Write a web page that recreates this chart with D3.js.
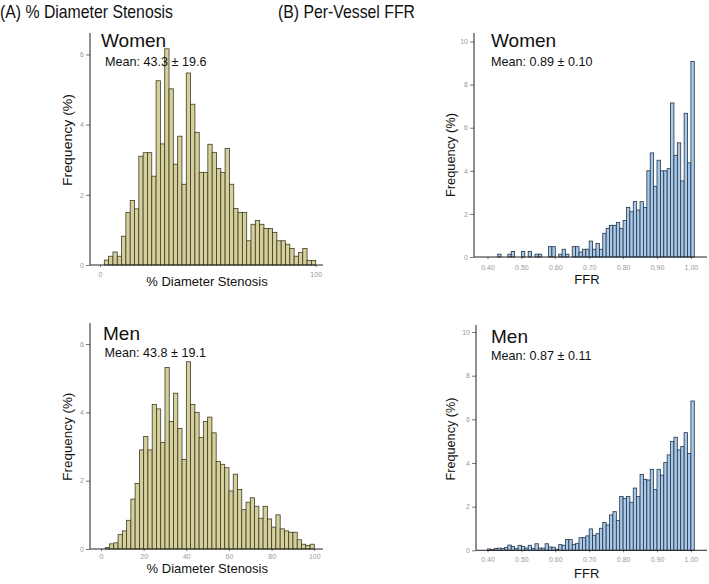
<!DOCTYPE html>
<html>
<head>
<meta charset="utf-8">
<script src="https://cdn.jsdelivr.net/npm/d3@7"></script>
<style>
  html, body { margin: 0; padding: 0; background: #fff; }
  svg { display: block; }
  text { font-family: "Liberation Sans", Arial, Helvetica, sans-serif; }
</style>
</head>
<body>
<div id="chart"></div>
<script>
// ---------- data ----------
const dsBinStart = [2,4,6,8,10,12,14,16,18,20,22,24,26,28,30,32,34,36,38,40,42,44,46,48,50,
                    52,54,56,58,60,62,64,66,68,70,72,74,76,78,80,82,84,86,88,90,92,94,96,98];
const dsWomen = [0.14,0.25,0.37,0.25,0.82,1.50,1.84,1.60,3.10,3.20,3.20,2.53,5.25,3.45,6.16,5.02,
                 2.87,3.67,2.30,5.47,4.58,3.78,2.64,2.64,3.44,3.21,2.75,2.64,3.32,2.30,1.61,1.50,
                 1.50,0.69,1.16,1.27,1.16,1.04,1.04,0.93,0.69,0.69,0.59,0.47,0.25,0.36,0.47,0.13,0.13];
const dsMen = [0.04,0.15,0.18,0.42,0.53,0.84,1.46,1.92,2.90,3.29,2.90,4.23,4.10,3.12,5.31,3.73,
               4.56,3.53,2.62,5.48,4.23,4.00,3.26,3.73,3.86,3.40,2.56,2.48,2.38,1.70,2.19,1.74,
               1.15,1.37,1.50,1.25,0.90,1.25,0.88,0.64,1.00,0.59,0.53,0.49,0.49,0.27,0.14,0.10,0.14];

const ffrBinStart = [0.40,0.41,0.42,0.43,0.44,0.45,0.46,0.47,0.48,0.49,0.50,0.51,0.52,0.53,0.54,
                     0.55,0.56,0.57,0.58,0.59,0.60,0.61,0.62,0.63,0.64,0.65,0.66,0.67,0.68,0.69,
                     0.70,0.71,0.72,0.73,0.74,0.75,0.76,0.77,0.78,0.79,0.80,0.81,0.82,0.83,0.84,
                     0.85,0.86,0.87,0.88,0.89,0.90,0.91,0.92,0.93,0.94,0.95,0.96,0.97,0.98,0.99,1.00];
const ffrWomen = [0,0,0,0.13,0,0,0.13,0.26,0,0,0.26,0,0.26,0,0.13,
                  0.13,0,0,0.48,0.48,0,0.13,0.36,0.13,0,0.48,0.48,0.23,0.36,0.36,
                  0.74,0.36,0.63,0.36,1.10,1.33,1.47,1.47,1.60,1.33,1.70,2.30,2.10,2.57,2.18,
                  2.57,2.30,4.00,4.83,3.28,4.49,4.00,4.00,4.10,7.15,4.72,5.30,3.53,6.67,4.37,9.07];
const ffrMen = [0.06,0.03,0.08,0.10,0.08,0.12,0.24,0.17,0.09,0.23,0.17,0.10,0.23,0.09,0.30,
                0.10,0.10,0.30,0.15,0.14,0.05,0.26,0.23,0.49,0.49,0.26,0.32,0.58,0.58,0.66,
                0.98,0.69,0.76,1.01,1.28,1.16,1.62,1.77,1.36,2.46,2.38,2.46,2.20,2.85,2.46,
                3.47,3.25,3.22,3.71,2.78,3.71,3.44,4.02,4.37,4.99,5.18,4.60,4.75,5.39,4.44,6.84];

const dsYTicks = [0,2,4,6];
const ffrYTicks = [0,2,4,6,8,10];
const dsXTicksWomen = [0,100];
const dsXTicksMen = [0,20,40,60,80,100];
const ffrXTicks = [0.40,0.50,0.60,0.70,0.80,0.90,1.00];

const titles = ["(A) % Diameter Stenosis", "(B) Per-Vessel FFR"];
const groupLabels = ["Women", "Men"];
const meanLabels = ["Mean: 43.3 \u00b1 19.6", "Mean: 43.8 \u00b1 19.1", "Mean: 0.89 \u00b1 0.10", "Mean: 0.87 \u00b1 0.11"];
const xTitles = ["% Diameter Stenosis", "FFR"];
const yTitle = "Frequency (%)";

// ---------- layout ----------
const W = 709, H = 584;
const svg = d3.select("#chart").append("svg").attr("width", W).attr("height", H);
svg.append("rect").attr("width", W).attr("height", H).attr("fill", "#fff");

const khaki = { fill: "#d5d09a", stroke: "#3d3b28" };
const blue  = { fill: "#a9c9ea", stroke: "#243446" };

const panels = [
  { data: dsWomen, bins: dsBinStart, bw: 2, xDom: [0,100], xRange: [100,315.7],
    yDom: [0,6], yRange: [265,54.4], axisX: 90, axisTop: 33, axisRight: 323,
    yTicks: dsYTicks, xTicks: dsXTicksWomen, fmt: d3.format("d"), col: khaki,
    group: groupLabels[0], gx: 101, gy: 47, mean: meanLabels[0], mx: 105, my: 66,
    xt: xTitles[0], xtx: 207, xty: 285.5, ytx: 71.5, yty: 140, ytl: 92, tickPad: 5 },
  { data: dsMen, bins: dsBinStart, bw: 2, xDom: [0,100], xRange: [101,314.3],
    yDom: [0,6], yRange: [549,344], axisX: 90, axisTop: 323, axisRight: 323,
    yTicks: dsYTicks, xTicks: dsXTicksMen, fmt: d3.format("d"), col: khaki,
    group: groupLabels[1], gx: 103, gy: 339.5, mean: meanLabels[1], mx: 104.5, my: 356.5,
    xt: xTitles[0], xtx: 207.3, xty: 573, ytx: 71.5, yty: 436.7, ytl: 88, tickPad: 3 },
  { data: ffrWomen, bins: ffrBinStart, bw: 0.01, xDom: [0.40,1.00], xRange: [487.5,690.9],
    yDom: [0,10], yRange: [257,41.5], axisX: 474, axisTop: 33, axisRight: 707,
    yTicks: ffrYTicks, xTicks: ffrXTicks, fmt: d3.format(".2f"), col: blue,
    group: groupLabels[0], gx: 491, gy: 47.3, mean: meanLabels[2], mx: 491, my: 66,
    xt: xTitles[1], xtx: 587, xty: 283.5, ytx: 455, yty: 155, ytl: 84, tickPad: 6 },
  { data: ffrMen, bins: ffrBinStart, bw: 0.01, xDom: [0.40,1.00], xRange: [487.5,690.9],
    yDom: [0,10], yRange: [550.3,332], axisX: 476, axisTop: 325, axisRight: 707,
    yTicks: ffrYTicks, xTicks: ffrXTicks, fmt: d3.format(".2f"), col: blue,
    group: groupLabels[1], gx: 491, gy: 343.3, mean: meanLabels[3], mx: 491, my: 360,
    xt: xTitles[1], xtx: 586.7, xty: 577.5, ytx: 455, yty: 439, ytl: 83, tickPad: 5 }
];

// titles
svg.append("text").attr("x", 0).attr("y", 18).attr("font-size", 18.5)
  .attr("textLength", 173).attr("lengthAdjust", "spacingAndGlyphs")
  .attr("fill", "#111").text(titles[0]);
svg.append("text").attr("x", 278).attr("y", 18).attr("font-size", 18.5)
  .attr("textLength", 137).attr("lengthAdjust", "spacingAndGlyphs")
  .attr("fill", "#111").text(titles[1]);

panels.forEach(p => {
  const g = svg.append("g");
  const x = d3.scaleLinear().domain(p.xDom).range(p.xRange);
  const y = d3.scaleLinear().domain(p.yDom).range(p.yRange);
  const base = y(0);

  // bars
  const rows = p.bins.map((b, i) => ({ b, v: p.data[i] })).filter(d => d.v > 0);
  g.append("g").selectAll("rect").data(rows).join("rect")
    .attr("x", d => x(d.b))
    .attr("y", d => y(d.v))
    .attr("width", d => x(d.b + p.bw) - x(d.b))
    .attr("height", d => base - y(d.v))
    .attr("fill", p.col.fill)
    .attr("stroke", p.col.stroke)
    .attr("stroke-width", 0.8);

  // y axis
  const ya = g.append("g").attr("transform", `translate(${p.axisX},0)`)
    .call(d3.axisLeft(y).tickValues(p.yTicks).tickSize(4).tickPadding(2).tickFormat(d3.format("d")));
  ya.select(".domain").remove();
  ya.selectAll("line").attr("stroke", "#555").attr("stroke-width", 0.8);
  ya.selectAll("text").attr("font-size", 7).attr("fill", "#999").attr("font-family", "Liberation Sans, Arial, sans-serif");

  // x axis
  const xa = g.append("g").attr("transform", `translate(0,${base})`)
    .call(d3.axisBottom(x).tickValues(p.xTicks).tickSize(2).tickPadding(p.tickPad).tickFormat(p.fmt));
  xa.select(".domain").remove();
  xa.selectAll("line").attr("stroke", "#555").attr("stroke-width", 0.8);
  xa.selectAll("text").attr("font-size", 7).attr("fill", "#999").attr("font-family", "Liberation Sans, Arial, sans-serif");

  // axis lines
  g.append("line").attr("x1", p.axisX).attr("x2", p.axisX).attr("y1", p.axisTop).attr("y2", base)
    .attr("stroke", "#222").attr("stroke-width", 1);
  g.append("line").attr("x1", p.axisX).attr("x2", p.axisRight).attr("y1", base).attr("y2", base)
    .attr("stroke", "#222").attr("stroke-width", 1);

  // labels
  g.append("text").attr("x", p.gx).attr("y", p.gy).attr("font-size", 19).attr("fill", "#111").text(p.group);
  g.append("text").attr("x", p.mx).attr("y", p.my).attr("font-size", 12.6).attr("fill", "#111").text(p.mean);
  g.append("text").attr("x", p.xtx).attr("y", p.xty).attr("font-size", 13).attr("text-anchor", "middle")
    .attr("fill", "#111").text(p.xt);
  g.append("text").attr("transform", `translate(${p.ytx},${p.yty}) rotate(-90)`)
    .attr("font-size", 13.5).attr("text-anchor", "middle")
    .attr("textLength", p.ytl).attr("lengthAdjust", "spacingAndGlyphs")
    .attr("fill", "#111").text(yTitle);
});
</script>
</body>
</html>
